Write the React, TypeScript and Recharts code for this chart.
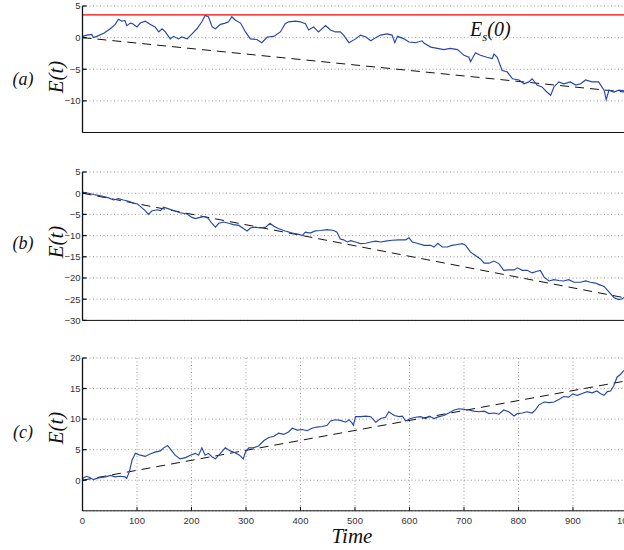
import React from 'react';
import { LineChart, Line, XAxis, YAxis, CartesianGrid, ReferenceLine } from 'recharts';

// ---------- data ----------
const timeTicks = [0, 100, 200, 300, 400, 500, 600, 700, 800, 900, 1000];
const timeDomain = [0, 1000];

const ticksA = [-10, -5, 0, 5];
const domainA = [-15, 5];
const ticksB = [-30, -25, -20, -15, -10, -5, 0, 5];
const domainB = [-30, 5];
const ticksC = [0, 5, 10, 15, 20];
const domainC = [-5, 20];

const panelLabels = ['(a)', '(b)', '(c)'];
const yLabel = 'E(t)';
const xLabel = 'Time';
const thresholdA = 3.6; // E_s(0)

// [time, E(t)]
const walkA: [number, number][] = [
  [0, 0.2], [8, 0.4], [17, 0.5], [20, 0], [26, 0.2], [39, 0.7], [51, 1.4], [60, 2.1], [66, 2.9], [72, 2.6],
  [78, 2.7], [81, 1.9], [88, 2.3], [92, 2.2], [100, 1.7], [106, 2.3], [115, 2.6], [124, 2.1], [133, 1.7], [140, 0.9],
  [146, 1.4], [152, 0.9], [161, -0.2], [167, 0.2], [176, -0.2], [182, 0.1], [192, -0.2], [201, 0.6], [210, 1.4], [219, 2.5],
  [225, 3.5], [231, 3.3], [238, 1.7], [244, 1.4], [253, 2.1], [262, 2.3], [268, 2.5], [274, 3.3], [280, 2.8], [290, 2.3],
  [299, 0.9], [308, -0.2], [320, -0.3], [329, -0.8], [339, 0.1], [351, 0.2], [363, 0.9], [372, 2.2], [378, 2.5], [391, 2.6],
  [400, 2.5], [409, 2.2], [415, 1.2], [424, 1.7], [433, 0.9], [446, 1.9], [455, 1.2], [464, 0.9], [473, 0.9], [479, 0.4],
  [489, -0.8], [501, -0.2], [510, 0.4], [520, 0.1], [529, -0.5], [538, 0], [547, 0.4], [559, 0.6], [568, 0.4], [573, -0.8],
  [578, 0.2], [590, -0.2], [599, -0.7], [611, -0.8], [623, -0.5], [627, -0.9], [639, -1.5], [651, -1.7], [663, -1.9], [675, -1.7],
  [688, -1.9], [700, -2.8], [709, -3.1], [712, -3.8], [721, -2.4], [730, -2.8], [742, -3.1], [752, -3.3], [755, -2.6], [761, -3.1],
  [770, -5.2], [779, -5.4], [789, -6.5], [801, -6.7], [810, -7.3], [819, -7.0], [825, -6.5], [834, -7.5], [843, -7.8], [852, -8.6],
  [859, -9.1], [865, -7.8], [874, -7.0], [883, -7.3], [895, -7.0], [905, -7.5], [914, -7.3], [923, -6.7], [935, -7.0], [947, -7.0],
  [957, -8.3], [961, -9.8], [966, -8.3], [975, -8.6], [984, -8.3], [994, -8.4], [1000, -8.5],
];

const walkB: [number, number][] = [
  [0, 0.3], [2, 0.2], [11, 0], [20, -0.3], [29, -0.5], [39, -0.8], [48, -1.1], [57, -1.6], [66, -1.3], [75, -1.6],
  [85, -1.9], [94, -2.4], [100, -2.5], [106, -3.1], [115, -4.1], [121, -5.0], [127, -4.2], [137, -3.9], [143, -4.1], [149, -3.3],
  [158, -3.7], [167, -4.1], [179, -4.6], [192, -4.9], [201, -5.7], [207, -6.0], [216, -5.7], [225, -5.5], [231, -6.0], [238, -7.2],
  [244, -8.0], [250, -7.1], [259, -6.8], [268, -7.1], [277, -7.4], [287, -7.6], [296, -8.4], [302, -8.9], [308, -8.2], [317, -8.0],
  [326, -8.2], [336, -8.0], [344, -7.1], [351, -7.8], [360, -8.4], [372, -8.9], [385, -9.4], [397, -9.7], [403, -10.0], [409, -9.2],
  [418, -9.4], [427, -8.9], [437, -8.8], [449, -8.6], [461, -8.8], [467, -9.2], [473, -10.8], [479, -11.0], [486, -11.5], [492, -11.2],
  [501, -11.5], [510, -11.9], [520, -11.8], [529, -11.5], [538, -11.3], [547, -11.5], [556, -11.3], [568, -11.1], [581, -11.0], [593, -11.0],
  [599, -10.5], [605, -11.5], [614, -11.8], [627, -12.3], [639, -12.3], [645, -12.7], [652, -11.8], [660, -12.7], [669, -12.7], [678, -12.3],
  [688, -12.1], [697, -11.9], [703, -12.3], [712, -13.9], [721, -14.7], [730, -15.5], [737, -16.5], [746, -16.5], [755, -16.0], [764, -16.6],
  [773, -18.2], [782, -18.1], [792, -18.1], [798, -17.6], [807, -18.2], [816, -18.2], [825, -18.8], [834, -18.4], [840, -18.2], [847, -19.8],
  [856, -20.7], [865, -20.4], [874, -20.6], [883, -20.7], [892, -20.4], [902, -21.0], [914, -21.0], [923, -20.7], [932, -21.0], [941, -21.2],
  [947, -21.5], [957, -22.0], [966, -23.3], [975, -24.6], [984, -25.1], [990, -24.9], [994, -24.6], [1000, -24.5],
];

const walkC: [number, number][] = [
  [0, 0.3], [2, 0.4], [8, 0.65], [14, 0.4], [20, 0.1], [26, 0.3], [32, 0.4], [42, 0.55], [51, 0.8], [60, 0.55],
  [69, 0.65], [78, 0.55], [81, 0.3], [86, 1.4], [91, 3.3], [97, 4.4], [106, 4.1], [115, 3.9], [124, 4.3], [133, 4.6],
  [143, 4.8], [149, 5.3], [156, 5.7], [162, 5.0], [170, 4.1], [179, 3.5], [189, 3.7], [198, 4.1], [207, 4.4], [213, 4.1],
  [219, 5.3], [225, 4.1], [231, 4.4], [238, 3.8], [244, 3.5], [253, 4.4], [262, 5.3], [271, 4.8], [280, 4.5], [288, 4.1],
  [295, 3.5], [299, 4.6], [305, 5.3], [314, 5.3], [323, 5.6], [333, 6.5], [342, 7.0], [351, 7.2], [360, 7.7], [369, 7.5],
  [378, 7.9], [385, 8.5], [394, 8.2], [403, 8.3], [412, 8.1], [421, 8.5], [430, 8.7], [440, 8.8], [449, 9.0], [455, 9.7],
  [464, 9.9], [473, 9.8], [483, 9.5], [489, 9.9], [495, 9.3], [497, 9.0], [501, 10.4], [510, 10.4], [520, 10.5], [529, 10.4],
  [538, 9.5], [547, 10.1], [556, 10.3], [562, 11.2], [572, 10.6], [581, 10.4], [587, 10.5], [593, 9.7], [602, 10.1], [611, 10.3],
  [620, 10.4], [630, 10.1], [636, 10.5], [645, 10.1], [654, 10.4], [663, 10.6], [672, 11.0], [682, 11.5], [691, 11.7], [700, 11.6],
  [709, 11.5], [718, 11.3], [727, 11.2], [737, 11.3], [746, 10.9], [755, 11.0], [764, 10.8], [773, 11.5], [782, 11.2], [792, 10.5],
  [798, 10.9], [807, 11.0], [816, 11.2], [825, 11.0], [831, 11.5], [837, 12.3], [847, 12.8], [856, 12.7], [865, 12.8], [874, 13.2],
  [883, 13.7], [892, 13.6], [899, 14.1], [908, 13.9], [917, 14.2], [926, 14.5], [935, 14.3], [944, 14.6], [950, 14.2], [957, 13.9],
  [963, 14.5], [969, 14.6], [975, 15.5], [981, 16.9], [987, 17.3], [993, 17.9], [1000, 18.0],
];

const trendA: [number, number][] = [[0, 0], [1000, -8.65]];
const trendB: [number, number][] = [[0, 0], [1000, -24.8]];
const trendC: [number, number][] = [[0, 0], [1000, 16.3]];

// ---------- helpers ----------
const toRows = (pairs: [number, number][]) => pairs.map(([t, e]) => ({ t, e }));
const fmt = (v: number) => String(v).replace('-', '\u2212');

const BLUE = '#2446ad';
const AXIS = '#111';
const tickFont = { fontSize: 9.5, fill: '#333', fontFamily: 'Liberation Sans, Arial, sans-serif' };
const serif = 'Liberation Serif, Times New Roman, serif';

type PanelProps = {
  walk: [number, number][];
  trend: [number, number][];
  yTicks: number[];
  yDomain: number[];
  plotTop: number;
  plotH: number;
  showXLabels: boolean;
  threshold?: number;
};

const Panel = ({ walk, trend, yTicks, yDomain, plotTop, plotH, showXLabels, threshold }: PanelProps) => {
  const mTop = 10;
  const height = mTop + plotH + 25;
  return (
    <div style={{ position: 'absolute', left: 0, top: plotTop - mTop }}>
      <LineChart width={640} height={height} margin={{ top: mTop, right: 12.5, bottom: 5, left: 42.5 }}>
        <CartesianGrid stroke="#9a9a9a" strokeDasharray="1 2.5" />
        <XAxis
          xAxisId={0}
          type="number"
          dataKey="t"
          domain={timeDomain}
          ticks={timeTicks}
          interval={0}
          height={20}
          stroke={AXIS}
          tickSize={-4}
          tickMargin={10}
          tick={showXLabels ? tickFont : false}
        />
        <XAxis
          xAxisId="top"
          orientation="top"
          type="number"
          dataKey="t"
          domain={timeDomain}
          ticks={timeTicks}
          interval={0}
          height={0}
          stroke={AXIS}
          tickSize={-4}
          tick={false}
        />
        <YAxis
          yAxisId={0}
          type="number"
          domain={yDomain}
          ticks={yTicks}
          interval={0}
          width={40}
          stroke={AXIS}
          strokeWidth={1.3}
          tickSize={-4}
          tickMargin={6}
          tick={tickFont}
          tickFormatter={fmt}
        />
        <YAxis
          yAxisId="r"
          orientation="right"
          type="number"
          domain={yDomain}
          ticks={yTicks}
          interval={0}
          width={0}
          stroke={AXIS}
          tickSize={-4}
          tick={false}
        />
        {threshold !== undefined && (
          <ReferenceLine y={threshold} stroke="#ff0000" strokeWidth={1.3} ifOverflow="extendDomain" />
        )}
        <Line
          data={toRows(trend)}
          xAxisId="top"
          yAxisId="r"
          dataKey="e"
          type="linear"
          stroke="#111"
          strokeWidth={1}
          strokeDasharray="9 6"
          dot={false}
          activeDot={false}
          isAnimationActive={false}
        />
        <Line
          data={toRows(walk)}
          xAxisId={0}
          yAxisId={0}
          dataKey="e"
          type="linear"
          stroke={BLUE}
          strokeWidth={1.15}
          dot={false}
          activeDot={false}
          isAnimationActive={false}
        />
      </LineChart>
    </div>
  );
};

const panels = [
  { walk: walkA, trend: trendA, yTicks: ticksA, yDomain: domainA, plotTop: 6, plotH: 126.5, showXLabels: false, threshold: thresholdA, labelY: 79, eY: 77 },
  { walk: walkB, trend: trendB, yTicks: ticksB, yDomain: domainB, plotTop: 171.5, plotH: 148.4, showXLabels: false, labelY: 243, eY: 242 },
  { walk: walkC, trend: trendC, yTicks: ticksC, yDomain: domainC, plotTop: 357.8, plotH: 152.8, showXLabels: true, labelY: 432, eY: 428 },
];

export default function App() {
  return (
    <div style={{ position: 'fixed', left: 0, top: 0, width: 624, height: 550, overflow: 'hidden', background: '#fff' }}>
      {panels.map((p, i) => (
        <Panel key={i} {...p} />
      ))}
      <svg width={624} height={550} style={{ position: 'absolute', left: 0, top: 0, pointerEvents: 'none' }}>
        {panels.map((p, i) => (
          <g key={i}>
            <text x={23} y={p.labelY} textAnchor="middle" dominantBaseline="central" fontFamily={serif} fontStyle="italic" fontSize={18} fill="#111">
              {panelLabels[i]}
            </text>
            <text
              x={56}
              y={p.eY}
              textAnchor="middle"
              dominantBaseline="central"
              fontFamily={serif}
              fontStyle="italic"
              fontSize={21}
              fill="#111"
              transform={`rotate(-90, 56, ${p.eY})`}
            >
              {yLabel}
            </text>
          </g>
        ))}
        <text x={352} y={536} textAnchor="middle" dominantBaseline="central" fontFamily={serif} fontStyle="italic" fontSize={21} fill="#111">
          {xLabel}
        </text>
        <text x={470} y={36} fontFamily={serif} fontStyle="italic" fontSize={20} fill="#111">
          E
          <tspan fontSize={13} dy={5}>s</tspan>
          <tspan dy={-5}>(0)</tspan>
        </text>
      </svg>
    </div>
  );
}
